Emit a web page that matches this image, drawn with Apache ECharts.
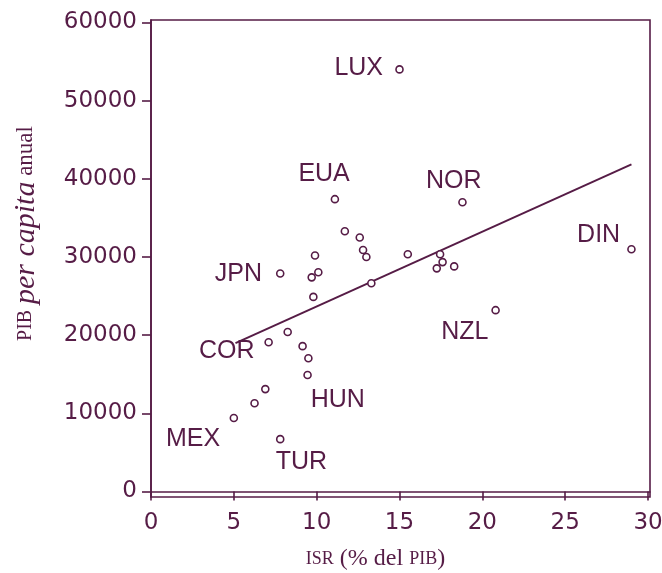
<!DOCTYPE html>
<html>
<head>
<meta charset="utf-8">
<script src="https://cdn.jsdelivr.net/npm/echarts@6/dist/echarts.min.js"></script>
<style>html,body{margin:0;padding:0;background:#fff}#c{width:662px;height:573px}</style>
</head>
<body>
<div id="c"></div>
<script>
// ISR (% del PIB) vs PIB per capita
const isr = [15.0, 11.1, 18.8, 29.0, 7.8, 11.7, 12.6, 12.8, 13.0, 9.9, 10.1, 9.7, 9.8, 13.3,
             8.25, 7.1, 9.15, 9.5, 9.45, 6.9, 6.25, 5.0, 7.8,
             15.5, 17.45, 17.6, 17.25, 18.3, 20.8];
const pib = [54000, 37400, 37000, 31000, 27900, 33300, 32500, 30900, 30000, 30200, 28050, 27400, 24900, 26650,
             20400, 19100, 18600, 17050, 14900, 13100, 11300, 9400, 6700,
             30350, 30350, 29350, 28550, 28800, 23200];
const names = ['LUX','EUA','NOR','DIN','JPN','','','','','','','','','',
               '','COR','','','HUN','','','MEX','TUR',
               '','','','','','NZL'];
const labelOffsets = {
  LUX: [-40, 0], EUA: [-10, -24], NOR: [-8, -20], DIN: [-32, -13], JPN: [-41, 1],
  COR: [-41, 10], HUN: [31, 26], MEX: [-40, 22], TUR: [22, 24], NZL: [-30, 23]
};
const fitX = [5.1, 29.0];
const fitY = [18980, 41850];
const xTicks = [0, 5, 10, 15, 20, 25, 30];
const yTicks = [0, 10000, 20000, 30000, 40000, 50000, 60000];

const C = '#561c46';
const SYM = 7;
const pts = isr.map((x, i) => {
  const n = names[i];
  const d = { value: [x, pib[i]] };
  if (n) {
    const o = labelOffsets[n];
    d.label = { show: true, formatter: n, position: [SYM / 2 + o[0], SYM / 2 + o[1]], align: 'center', verticalAlign: 'middle' };
  }
  return d;
});

const chart = echarts.init(document.getElementById('c'), null, { renderer: 'canvas' });
chart.setOption({
  animation: false,
  grid: { left: 151, right: 12, top: 20, bottom: 76, show: true, borderColor: C, borderWidth: 1.6,
          containLabel: false, outerBoundsMode: 'none' },
  xAxis: {
    type: 'value', min: 0, max: 30.12,
    axisLine: { show: true, lineStyle: { color: C, width: 1.6 } },
    axisTick: { show: true, length: 9, customValues: xTicks, lineStyle: { color: C, width: 1.6 } },
    axisLabel: { customValues: xTicks, formatter: v => String(v), color: C, fontFamily: 'DejaVu Sans', fontSize: 23, margin: 15 },
    splitLine: { show: false },
    name: '{sc|ISR} (% del {sc|PIB})',
    nameLocation: 'middle', nameGap: 50,
    nameTextStyle: {
      color: C, fontFamily: 'Liberation Serif', fontSize: 24, padding: [0, 50, 0, 0],
      rich: { sc: { fontFamily: 'Liberation Serif', fontSize: 18, color: C } }
    }
  },
  yAxis: {
    type: 'value', min: -700, max: 60320,
    axisLine: { show: true, lineStyle: { color: C, width: 1.6 } },
    axisTick: { show: true, length: 9, customValues: yTicks, lineStyle: { color: C, width: 1.6 } },
    axisLabel: { customValues: yTicks, formatter: v => String(v), color: C, fontFamily: 'DejaVu Sans', fontSize: 23, margin: 14 },
    splitLine: { show: false },
    name: '{sc|PIB} {it|per capita} anual',
    nameLocation: 'middle', nameGap: 110,
    nameTextStyle: {
      color: C, fontFamily: 'Liberation Serif', fontSize: 23, padding: [0, 0, 0, 50],
      rich: {
        sc: { fontFamily: 'Liberation Serif', fontSize: 20, color: C },
        it: { fontFamily: 'Liberation Serif', fontStyle: 'italic', fontSize: 30, color: C }
      }
    }
  },
  series: [
    {
      type: 'line', data: fitX.map((x, i) => [x, fitY[i]]), symbol: 'none',
      lineStyle: { color: C, width: 2 }, silent: true, z: 1
    },
    {
      type: 'scatter', data: pts, symbol: 'circle', symbolSize: SYM,
      itemStyle: { color: '#fff', borderColor: C, borderWidth: 1.6, opacity: 1 },
      label: { show: false, color: C, fontFamily: 'Liberation Sans', fontSize: 25 },
      labelLayout: { hideOverlap: false },
      z: 3
    }
  ]
});
</script>
</body>
</html>
